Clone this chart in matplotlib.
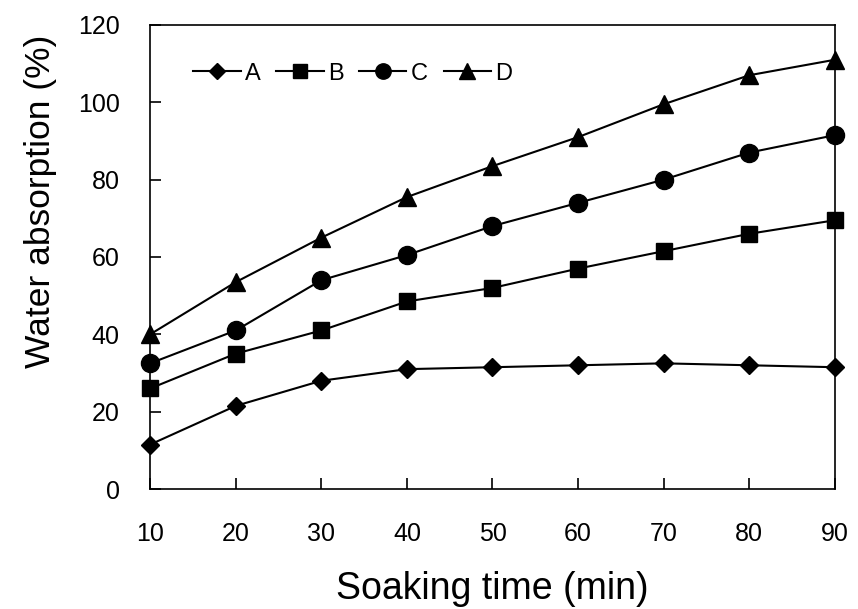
import matplotlib.pyplot as plt

plt.rcParams['font.family'] = ['Liberation Sans', 'DejaVu Sans']

soaking_time = [10, 20, 30, 40, 50, 60, 70, 80, 90]
series_a = [11.5, 21.5, 28, 31, 31.5, 32, 32.5, 32, 31.5]
series_b = [26, 35, 41, 48.5, 52, 57, 61.5, 66, 69.5]
series_c = [32.5, 41, 54, 60.5, 68, 74, 80, 87, 91.5]
series_d = [40, 53.5, 65, 75.5, 83.5, 91, 99.5, 107, 111]

fig = plt.figure(figsize=(8.58, 6.09), dpi=100)
ax = fig.add_axes([0.175, 0.197, 0.798, 0.762])

# one line per sample, black markers as in the original print
ax.plot(soaking_time, series_a, "-D", c="black", ms=9, lw=1.5, label="A", clip_on=False)
ax.plot(soaking_time, series_b, "-s", c="black", ms=12, lw=1.5, label="B", clip_on=False)
ax.plot(soaking_time, series_c, "-o", c="black", ms=13, lw=1.5, label="C", clip_on=False)
ax.plot(soaking_time, series_d, "-^", c="black", ms=13, lw=1.5, label="D", clip_on=False)

ax.set_xlim(10, 90)
ax.set_ylim(0, 120)
ax.set_xticks(soaking_time)
ax.set_yticks(range(0, 121, 20))
ax.tick_params(direction="in", length=8, width=1.2, labelsize=18)
ax.tick_params(axis="x", pad=24)
ax.tick_params(axis="y", pad=22)

for spine in ax.spines.values():
    spine.set_linewidth(1.2)

ax.set_xlabel("Soaking time (min)", fontsize=27, labelpad=18)
ax.set_ylabel("Water absorption (%)", fontsize=25.5)
# the original label sits above the axes centre
ax.yaxis.set_label_coords(-0.136, 0.62)

ax.legend(loc="center left", bbox_to_anchor=(0.063, 0.895), ncol=4, frameon=False,
          fontsize=17, handlelength=2.0, handletextpad=0.2, columnspacing=0.65,
          markerscale=0.85, borderpad=0, borderaxespad=0)

fig.savefig("out.png", dpi=100)
